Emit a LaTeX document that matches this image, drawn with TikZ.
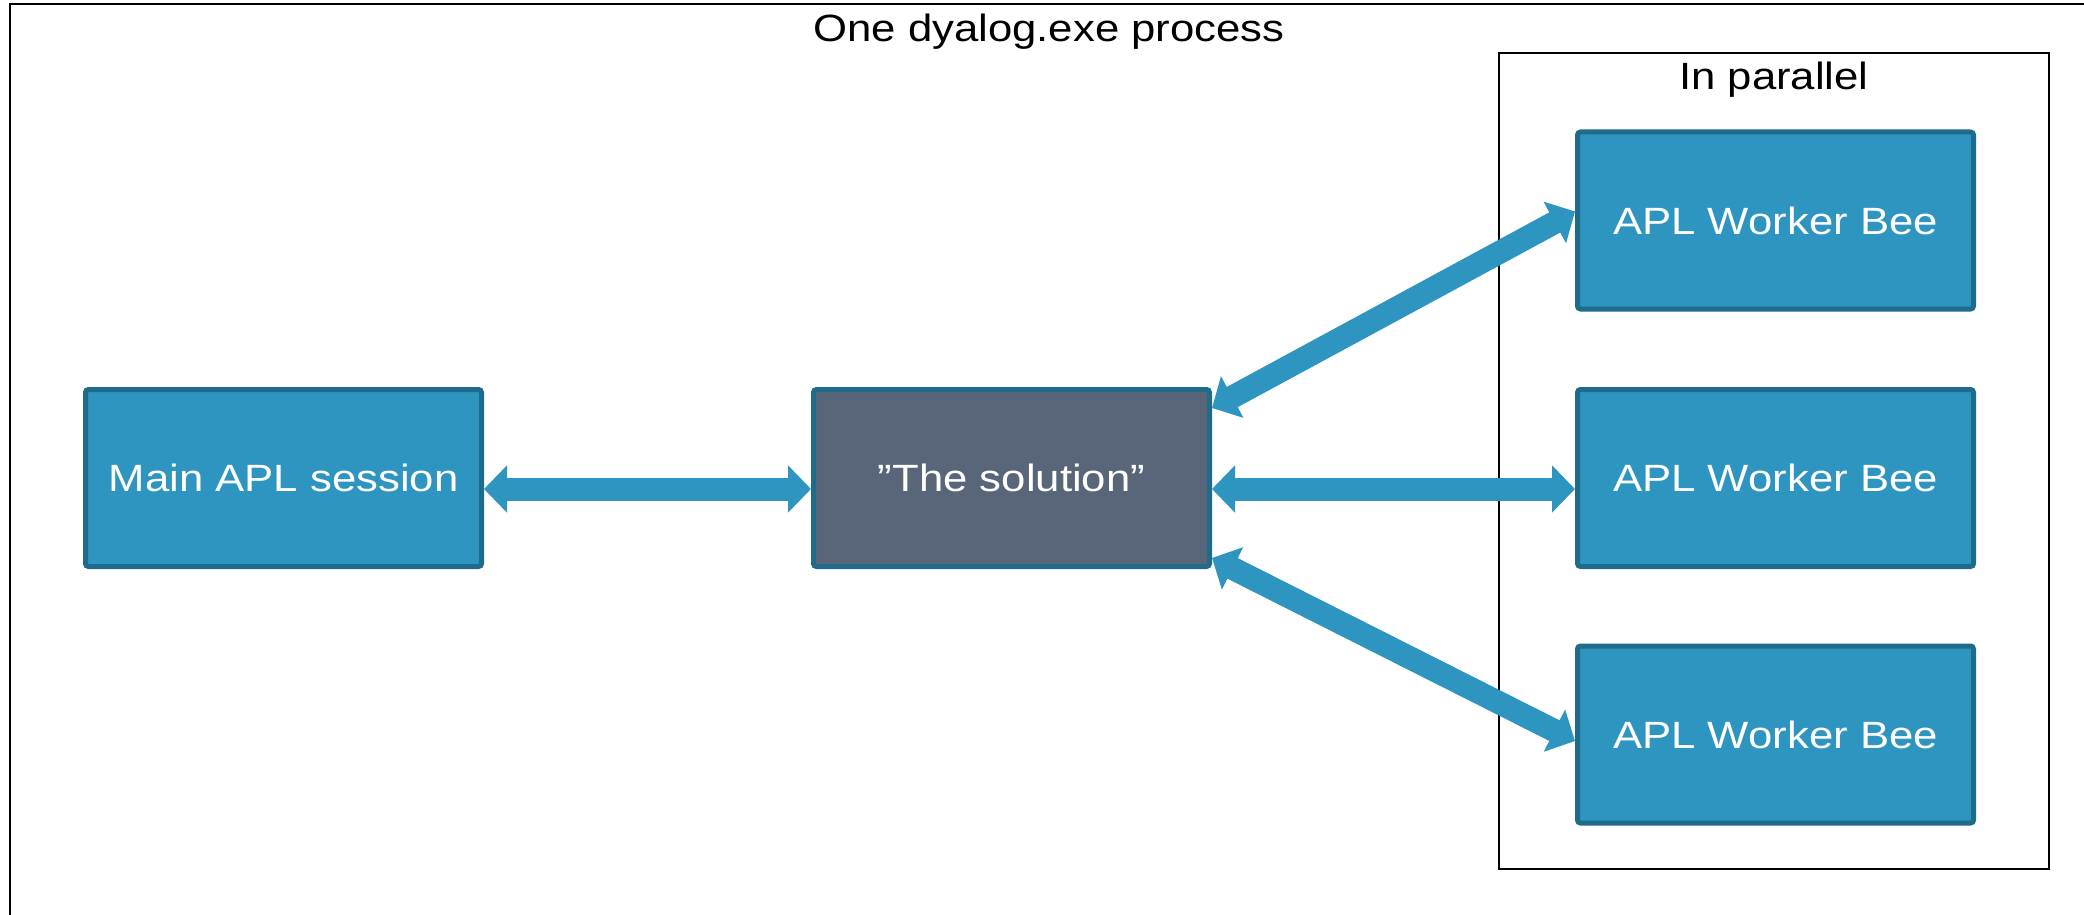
\documentclass[tikz,border=0pt]{standalone}
\usepackage{fontspec}
\setmainfont[FakeStretch=1.15]{Liberation Sans}
\usetikzlibrary{arrows.meta,calc}
\definecolor{boxblue}{HTML}{2E95C0}
\definecolor{boxedge}{HTML}{1F6B8B}
\definecolor{solfill}{HTML}{596579}
\begin{document}
\begin{tikzpicture}[x=0.5pt,y=-0.5pt,
  box/.style={draw=boxedge, line width=2.5pt, fill=boxblue, rounded corners=1.5pt,
    minimum width=198pt, minimum height=88.5pt, text=white,
    font=\fontsize{19}{23}\selectfont, inner sep=0pt},
  solbox/.style={box, fill=solfill},
  frame/.style={draw=black, line width=0.9pt},
  link/.style={draw=boxblue, line width=11.5pt,
    {Triangle[width=23pt,length=11.5pt]}-{Triangle[width=23pt,length=11.5pt]}},
  lbl/.style={font=\fontsize{19}{23}\selectfont, text=black, inner sep=0pt}]
\useasboundingbox (0,0) rectangle (2084,915);
\fill[white] (0,0) rectangle (2084,915);
\draw[frame] (10,4) rectangle (2120,950);
\draw[frame] (1499,53) rectangle (2049,869);
\node[lbl] (title) at (1049,32) {One dyalog.exe process};
\node[lbl] (par) at (1774,80) {In parallel};
\node[box] (main) at (283.5,478) {Main APL session};
\node[solbox] (sol) at (1011.5,478) {”The solution”};
\node[box] (w1) at (1775.5,220.5) {APL Worker Bee};
\node[box] (w2) at (1775.5,478) {APL Worker Bee};
\node[box] (w3) at (1775.5,734.5) {APL Worker Bee};
\draw[link] ([yshift=-5.5pt]main.east) -- ([yshift=-5.5pt]sol.west);
\draw[link] ([yshift=-5.5pt]sol.east) -- ([yshift=-5.5pt]w2.west);
\draw[link] ([yshift=-10.5pt]sol.north east) -- ([yshift=4.5pt]w1.west);
\draw[link] ([yshift=5.5pt]sol.south east) -- ([yshift=-3.25pt]w3.west);
\end{tikzpicture}
\end{document}
